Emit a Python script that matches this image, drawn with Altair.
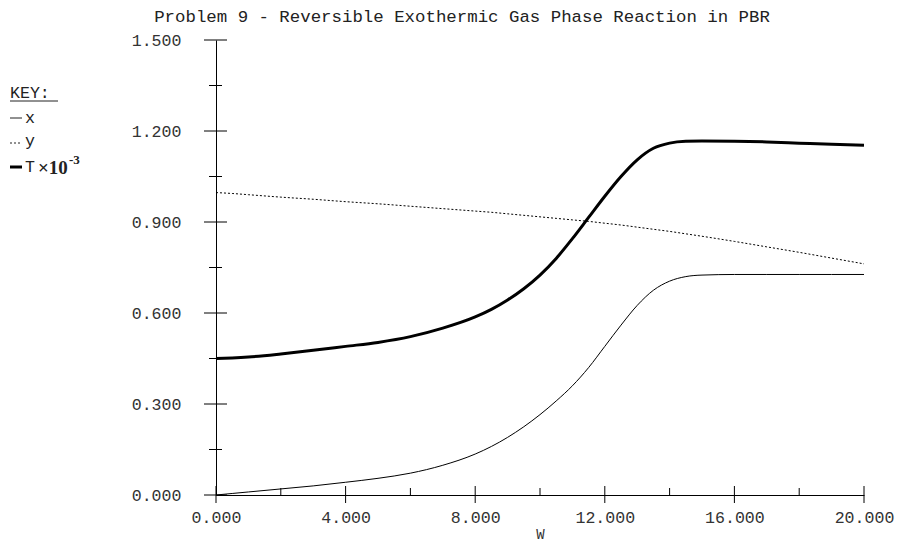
import altair as alt
import pandas as pd

# ---- data ----
W = [0, 0.5, 1, 2, 3, 4, 5, 6, 7, 8, 8.5, 9, 9.5, 10, 10.5, 11, 11.5, 12, 12.5, 13, 13.5, 14, 14.5, 15, 16, 17, 18, 19, 20]
X = [0, 0.005, 0.01, 0.02, 0.03, 0.042, 0.055, 0.072, 0.098, 0.135, 0.16, 0.19, 0.225, 0.265, 0.31, 0.36, 0.42, 0.49, 0.56, 0.625, 0.675, 0.705, 0.72, 0.725, 0.727, 0.727, 0.727, 0.727, 0.727]
Y = [0.997, 0.994, 0.99, 0.982, 0.975, 0.967, 0.96, 0.952, 0.944, 0.936, 0.932, 0.927, 0.922, 0.917, 0.912, 0.907, 0.902, 0.896, 0.89, 0.883, 0.876, 0.869, 0.861, 0.853, 0.836, 0.818, 0.8, 0.781, 0.762]
T = [0.45, 0.452, 0.455, 0.465, 0.477, 0.49, 0.503, 0.522, 0.55, 0.587, 0.612, 0.643, 0.68, 0.725, 0.78, 0.845, 0.915, 0.985, 1.05, 1.105, 1.143, 1.16, 1.166, 1.167, 1.166, 1.164, 1.16, 1.156, 1.153]

X_MAJOR = [0, 4, 8, 12, 16, 20]
X_MINOR = [2, 6, 10, 14, 18]
Y_MAJOR = [0, 0.3, 0.6, 0.9, 1.2, 1.5]
Y_MINOR = [0.15, 0.45, 0.75, 1.05, 1.35]

TITLE = "Problem 9 - Reversible Exothermic Gas Phase Reaction in PBR"
FONT = "Liberation Mono"
FS = 16.6
WIDTH, HEIGHT = 648, 455

df = pd.DataFrame({"W": W, "x": X, "y": Y, "T": T})

xs = alt.Scale(domain=[0, 20], nice=False)
ys = alt.Scale(domain=[0, 1.5], nice=False)

xaxis = alt.Axis(values=X_MAJOR, format=".3f", ticks=False, grid=False, domainColor="black",
                 labelFont=FONT, labelFontSize=FS, labelColor="#333", labelPadding=14,
                 title="W", titleFont=FONT, titleFontSize=14, titleFontWeight="normal",
                 titleColor="#333", titlePadding=2, labelFlush=False)
yaxis = alt.Axis(values=Y_MAJOR, format=".3f", ticks=False, grid=False, domainColor="black",
                 labelFont=FONT, labelFontSize=FS, labelColor="#333", labelPadding=35, title=None)

base = alt.Chart(df)

x_line = base.mark_line(color="black", strokeWidth=1, interpolate="monotone").encode(
    x=alt.X("W:Q", scale=xs, axis=xaxis), y=alt.Y("x:Q", scale=ys, axis=yaxis))
y_line = base.mark_line(color="black", strokeWidth=1, strokeDash=[2, 2], interpolate="monotone").encode(
    x=alt.X("W:Q", scale=xs), y=alt.Y("y:Q", scale=ys))
t_line = base.mark_line(color="black", strokeWidth=3, interpolate="monotone").encode(
    x=alt.X("W:Q", scale=xs), y=alt.Y("T:Q", scale=ys))

# crossing ticks
ymaj = alt.Chart(pd.DataFrame({"v": Y_MAJOR})).mark_rule(color="black").encode(
    y=alt.Y("v:Q", scale=ys), x=alt.value(-12), x2=alt.value(11))
ymin = alt.Chart(pd.DataFrame({"v": Y_MINOR})).mark_rule(color="black").encode(
    y=alt.Y("v:Q", scale=ys), x=alt.value(-7), x2=alt.value(6))
xmaj = alt.Chart(pd.DataFrame({"v": X_MAJOR})).mark_rule(color="black").encode(
    x=alt.X("v:Q", scale=xs), y=alt.value(HEIGHT - 9), y2=alt.value(HEIGHT + 8))
xmin = alt.Chart(pd.DataFrame({"v": X_MINOR})).mark_rule(color="black").encode(
    x=alt.X("v:Q", scale=xs), y=alt.value(HEIGHT - 7), y2=alt.value(HEIGHT))

# title
title = alt.Chart(pd.DataFrame({"t": [TITLE]})).mark_text(
    font=FONT, fontSize=17.4, color="#222", align="center", baseline="middle").encode(
    text="t:N", x=alt.value(246), y=alt.value(-23))

# key (legend)
OX, OY = -216, -40
LFS = 16.6
key_txt = alt.Chart(pd.DataFrame({"t": ["KEY:"]})).mark_text(
    font=FONT, fontSize=LFS, color="#222", align="left", baseline="middle").encode(
    text="t:N", x=alt.value(OX + 10), y=alt.value(OY + 93))
key_ul = alt.Chart(pd.DataFrame({"a": [0]})).mark_rule(color="#222").encode(
    x=alt.value(OX + 10), x2=alt.value(OX + 58), y=alt.value(OY + 101))
leg_x = alt.Chart(pd.DataFrame({"a": [0]})).mark_rule(color="#222", strokeWidth=1).encode(
    x=alt.value(OX + 10), x2=alt.value(OX + 22), y=alt.value(OY + 118))
leg_y = alt.Chart(pd.DataFrame({"a": [0]})).mark_rule(color="#222", strokeWidth=1, strokeDash=[2, 2]).encode(
    x=alt.value(OX + 10), x2=alt.value(OX + 22), y=alt.value(OY + 143))
leg_t = alt.Chart(pd.DataFrame({"a": [0]})).mark_rule(color="black", strokeWidth=3).encode(
    x=alt.value(OX + 10), x2=alt.value(OX + 22), y=alt.value(OY + 167))
lab_x = alt.Chart(pd.DataFrame({"t": ["x"]})).mark_text(
    font=FONT, fontSize=LFS, color="#222", align="left", baseline="middle").encode(
    text="t:N", x=alt.value(OX + 25), y=alt.value(OY + 118))
lab_y = alt.Chart(pd.DataFrame({"t": ["y"]})).mark_text(
    font=FONT, fontSize=LFS, color="#222", align="left", baseline="middle").encode(
    text="t:N", x=alt.value(OX + 25), y=alt.value(OY + 141))
lab_t = alt.Chart(pd.DataFrame({"t": ["T"]})).mark_text(
    font=FONT, fontSize=LFS, color="#222", align="left", baseline="middle").encode(
    text="t:N", x=alt.value(OX + 25), y=alt.value(OY + 167))
lab_mul = alt.Chart(pd.DataFrame({"t": ["\u00d710"]})).mark_text(
    font="Liberation Serif", fontSize=19, fontWeight="bold", color="#222", align="left", baseline="middle").encode(
    text="t:N", x=alt.value(OX + 38), y=alt.value(OY + 168))
lab_exp = alt.Chart(pd.DataFrame({"t": ["-3"]})).mark_text(
    font="Liberation Serif", fontSize=13, fontWeight="bold", color="#222", align="left", baseline="middle").encode(
    text="t:N", x=alt.value(OX + 69), y=alt.value(OY + 160))

chart = alt.layer(
    x_line, y_line, t_line, ymaj, ymin, xmaj, xmin, title,
    key_txt, key_ul, leg_x, leg_y, leg_t, lab_x, lab_y, lab_t, lab_mul, lab_exp
).properties(
    width=WIDTH, height=HEIGHT,
    padding={"left": 208, "top": 32, "right": 32, "bottom": 49},
    autosize=alt.AutoSizeParams(type="none"),
    background="white",
).configure_view(strokeWidth=0)

chart.save("out.html", embed_options={"renderer": "svg", "actions": False})
